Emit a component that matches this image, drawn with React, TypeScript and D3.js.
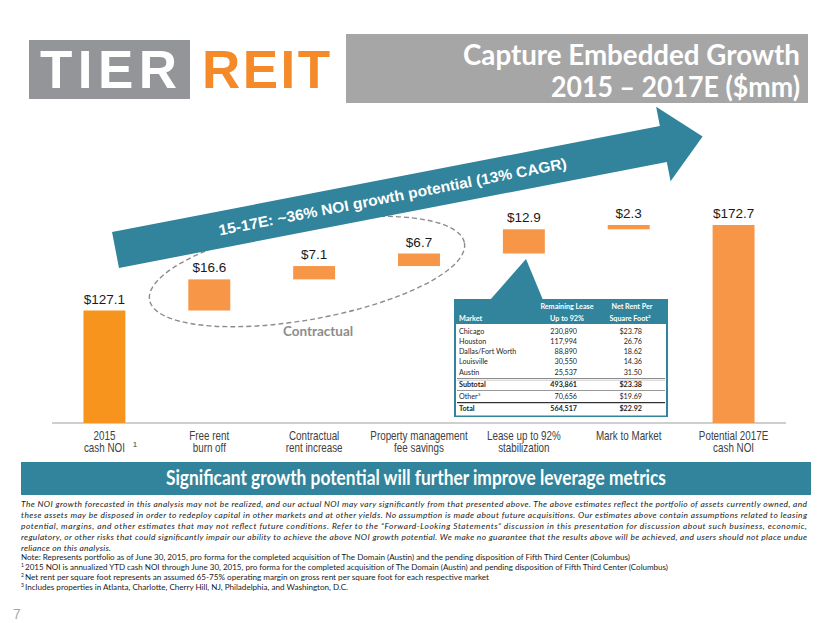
import React from "react";
import * as d3 from "d3";

const categories = [
  ["2015", "cash NOI"],
  ["Free rent", "burn off"],
  ["Contractual", "rent increase"],
  ["Property management", "fee savings"],
  ["Lease up to 92%", "stabilization"],
  ["Mark to Market"],
  ["Potential 2017E", "cash NOI"],
];
const values = [127.1, 16.6, 7.1, 6.7, 12.9, 2.3, 172.7];
const isTotal = [true, false, false, false, false, false, true];
const valueLabels = ["$127.1", "$16.6", "$7.1", "$6.7", "$12.9", "$2.3", "$172.7"];

const markets = ["Chicago", "Houston", "Dallas/Fort Worth", "Louisville", "Austin"];
const remainingLease = ["230,890", "117,994", "88,890", "30,550", "25,537"];
const netRent = ["$23.78", "26.76", "18.62", "14.36", "31.50"];
const summaryRows = [
  { label: "Subtotal", sup: "", lease: "493,861", rent: "$23.38", bold: true },
  { label: "Other", sup: "3", lease: "70,656", rent: "$19.69", bold: false },
  { label: "Total", sup: "", lease: "564,517", rent: "$22.92", bold: true },
];

const disclaimer = [
  "The NOI growth forecasted in this analysis may not be realized, and our actual NOI may vary significantly from that presented above. The above estimates reflect the portfolio of assets currently owned, and",
  "these assets may be disposed in order to redeploy capital in other markets and at other yields. No assumption is made about future acquisitions. Our estimates above contain assumptions related to leasing",
  "potential, margins, and other estimates that may not reflect future conditions. Refer to the \u201cForward-Looking Statements\u201d discussion in this presentation for discussion about such business, economic,",
  "regulatory, or other risks that could significantly impair our ability to achieve the above NOI growth potential. We make no guarantee that the results above will be achieved, and users should not place undue",
  "reliance on this analysis.",
];
const notes = [
  { sup: "", text: "Note: Represents portfolio as of June 30, 2015, pro forma for the completed acquisition of The Domain (Austin) and the pending disposition of Fifth Third Center (Columbus)", end: 630 },
  { sup: "1", text: "2015 NOI is annualized YTD cash NOI through June 30, 2015, pro forma for the completed acquisition of The Domain (Austin) and pending disposition of Fifth Third Center (Columbus)", end: 668 },
  { sup: "2", text: "Net rent per square foot represents an assumed 65-75% operating margin on gross rent per square foot for each respective market", end: 489 },
  { sup: "3", text: "Includes properties in Atlanta, Charlotte, Cherry Hill, NJ, Philadelphia, and Washington, D.C.", end: 348 },
];

const W = 830;
const H = 623;
const TEAL = "#31849B";
const ORANGE = "#F79646";
const sans = "'Liberation Sans', Arial, sans-serif";
const cal = "Lato, 'Open Sans', sans-serif";

const App: React.FC = () => {
  const x = d3
    .scaleBand<number>()
    .domain(d3.range(values.length))
    .range([52, 786])
    .paddingInner(0.6)
    .paddingOuter(0.3);

  // broken scale: base bar compressed, increments stretched
  const y = d3.scaleLinear().domain([0, 127.1, 172.7]).range([423, 310.5, 225]);

  let run = 0;
  const steps = values.map((v, i) => {
    if (isTotal[i]) {
      run = v;
      return { y0: 0, y1: v };
    }
    const s = { y0: run, y1: run + v };
    run += v;
    return s;
  });

  // growth arrow geometry
  const ang = Math.atan2(-106, 548);
  const d = [Math.cos(ang), Math.sin(ang)];
  const n = [-Math.sin(ang), Math.cos(ang)];
  const tail = [115.5, 250];
  const shaftLen = 558;
  const hw = 18.3;
  const headW = 38;
  const headL = 40;
  const c = [tail[0] + d[0] * shaftLen, tail[1] + d[1] * shaftLen];
  const arrowPts = [
    [tail[0] - n[0] * hw, tail[1] - n[1] * hw],
    [c[0] - n[0] * hw, c[1] - n[1] * hw],
    [c[0] - n[0] * headW, c[1] - n[1] * headW],
    [c[0] + d[0] * headL, c[1] + d[1] * headL],
    [c[0] + n[0] * headW, c[1] + n[1] * headW],
    [c[0] + n[0] * hw, c[1] + n[1] * hw],
    [tail[0] + n[0] * hw, tail[1] + n[1] * hw],
  ];
  const angDeg = (ang * 180) / Math.PI;

  const rowY = [331.7, 341.7, 351.7, 361.7, 372.3];
  const sumY = [384.7, 396.7, 408.7];

  return (
    <div style={{ position: "absolute", left: 0, top: 0 }}>
      <svg width={W} height={H} style={{ display: "block", background: "#fff" }}>
        {/* logo */}
        <rect x={29} y={40} width={161} height={59} fill="#939598" />
        <text x={40} y={88} fill="#fff" fontFamily={sans} fontWeight={700} fontSize={53} textLength={137} lengthAdjust="spacing">
          TIER
        </text>
        <text x={202} y={88} fill="#F58A2A" fontFamily={sans} fontWeight={700} fontSize={53} textLength={128} lengthAdjust="spacing">
          REIT
        </text>

        {/* title */}
        <rect x={346} y={34} width={462} height={69} fill="#A6A6A6" />
        <text x={800} y={65} textAnchor="end" fill="#fff" fontFamily={cal} fontWeight={700} fontSize={29} textLength={337} lengthAdjust="spacingAndGlyphs">
          Capture Embedded Growth
        </text>
        <text x={800} y={97} textAnchor="end" fill="#fff" fontFamily={cal} fontWeight={700} fontSize={29} textLength={249} lengthAdjust="spacingAndGlyphs">
          2015 – 2017E ($mm)
        </text>

        {/* contractual ellipse */}
        <ellipse
          cx={0}
          cy={0}
          rx={160}
          ry={48}
          transform="translate(307,271.5) rotate(-10.3)"
          fill="none"
          stroke="#8C8C8C"
          strokeWidth={1.4}
          strokeDasharray="5,3"
        />
        <text x={318} y={336} textAnchor="middle" fill="#8C8C8C" fontFamily={cal} fontWeight={700} fontSize={13.5}>
          Contractual
        </text>

        {/* growth arrow */}
        <polygon points={arrowPts.map((p) => p.join(",")).join(" ")} fill={TEAL} />
        <text
          transform={`translate(392.5,196.5) rotate(${angDeg})`}
          textAnchor="middle"
          dy="0.36em"
          fill="#fff"
          fontFamily={sans}
          fontWeight={700}
          fontSize={15}
          textLength={354}
          lengthAdjust="spacingAndGlyphs"
        >
          15-17E: ~36% NOI growth potential (13% CAGR)
        </text>

        {/* axis line */}
        <line x1={52} x2={786} y1={423} y2={423} stroke="#BFBFBF" strokeWidth={1.5} />

        {/* bars */}
        {steps.map((s, i) => {
          const top = y(s.y1);
          const bot = y(s.y0);
          const cx = (x(i) ?? 0) + x.bandwidth() / 2;
          return (
            <g key={i}>
              <rect
                x={x(i)}
                y={top}
                width={x.bandwidth()}
                height={Math.max(bot - top, 1.5)}
                fill={i === 0 ? "#F7941E" : ORANGE}
              />
              <text x={cx} y={top - 7} textAnchor="middle" fill="#1a1a1a" fontFamily={sans} fontSize={13.5}>
                {valueLabels[i]}
              </text>
              {categories[i].map((line, j) => (
                <text
                  key={j}
                  transform={`translate(${cx},${440 + j * 12}) scale(0.82,1)`}
                  textAnchor="middle"
                  fill="#404040"
                  fontFamily={sans}
                  fontSize={12}
                >
                  {line}
                </text>
              ))}
            </g>
          );
        })}
        <text x={135} y={447} textAnchor="middle" fill="#404040" fontFamily={sans} fontSize={8}>
          1
        </text>

        {/* lease-up table callout */}
        <polygon points="490,300 526,259 543,300" fill={TEAL} />
        <rect x={454} y={299} width={214} height={118} fill={TEAL} />
        <rect x={456} y={324} width={210} height={91.5} fill="#fff" />
        <g fontFamily={cal} fontSize={7.2} fill="#fff" fontWeight={700}>
          <text x={567} y={309} textAnchor="middle">Remaining Lease</text>
          <text x={567} y={320.5} textAnchor="middle">Up to 92%</text>
          <text x={459} y={320.5}>Market</text>
          <text x={632} y={309} textAnchor="middle">Net Rent Per</text>
          <text x={630} y={320.5} textAnchor="middle">
            Square Foot<tspan fontSize={4.5} dy={-3}>2</tspan>
          </text>
        </g>
        <g fontFamily={cal} fontSize={7.2} fill="#262626">
          {markets.map((m, i) => (
            <g key={m}>
              <text x={459} y={rowY[i] + 2.5}>{m}</text>
              <text x={577} y={rowY[i] + 2.5} textAnchor="end">{remainingLease[i]}</text>
              <text x={642} y={rowY[i] + 2.5} textAnchor="end">{netRent[i]}</text>
            </g>
          ))}
          {summaryRows.map((r, i) => (
            <g key={r.label} fontWeight={r.bold ? 700 : 400}>
              <text x={459} y={sumY[i] + 2.5}>
                {r.label}
                {r.sup && <tspan fontSize={4.5} dy={-3}>{r.sup}</tspan>}
              </text>
              <text x={577} y={sumY[i] + 2.5} textAnchor="end">{r.lease}</text>
              <text x={642} y={sumY[i] + 2.5} textAnchor="end">{r.rent}</text>
            </g>
          ))}
        </g>
        <line x1={457} x2={665} y1={378.5} y2={378.5} stroke="#8C8C8C" strokeWidth={1.2} />
        <line x1={457} x2={665} y1={380.2} y2={380.2} stroke="#BFBFBF" strokeWidth={0.8} />
        <line x1={457} x2={665} y1={390.5} y2={390.5} stroke="#8C8C8C" strokeWidth={0.9} />
        <line x1={457} x2={665} y1={402.7} y2={402.7} stroke="#000" strokeWidth={1} />

        {/* banner */}
        <rect x={21} y={462} width={790} height={33} fill={TEAL} />
        <text x={416} y={485} textAnchor="middle" fill="#fff" fontFamily={cal} fontWeight={700} fontSize={20} textLength={500} lengthAdjust="spacingAndGlyphs">
          Significant growth potential will further improve leverage metrics
        </text>

        {/* disclaimer */}
        <g fontFamily={cal} fontStyle="italic" fontSize={8.4} fill="#1a1a1a">
          {disclaimer.map((t, i) => (
            <text key={i} x={21} y={507.3 + i * 10.85} textLength={i < 4 ? 786 : 90} lengthAdjust="spacing">
              {t}
            </text>
          ))}
        </g>
        <g fontFamily={cal} fontSize={8} fill="#1a1a1a">
          {notes.map((nt, i) => {
            const by = 560 + i * 10;
            const tx = nt.sup ? 25 : 21;
            return (
              <g key={i}>
                {nt.sup && (
                  <text x={21} y={by - 3} fontSize={5}>
                    {nt.sup}
                  </text>
                )}
                <text x={tx} y={by} textLength={nt.end - tx} lengthAdjust="spacingAndGlyphs">
                  {nt.text}
                </text>
              </g>
            );
          })}
        </g>
        <text x={13} y={619} fill="#A6A6A6" fontFamily={sans} fontSize={14}>
          7
        </text>
      </svg>
    </div>
  );
};

export default App;
